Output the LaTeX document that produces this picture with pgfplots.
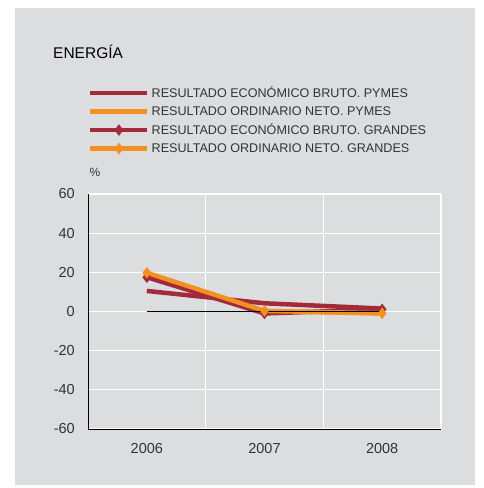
\documentclass[border=0pt]{standalone}
\usepackage{fontspec}
\setmainfont{Liberation Sans}
\usepackage{pgfplots}
\pgfplotsset{compat=1.18}
\definecolor{bg}{HTML}{DCDDDF}
\definecolor{bruto}{HTML}{A12B3B}
\definecolor{neto}{HTML}{F39021}
\definecolor{txt}{HTML}{333333}

\begin{document}
\begin{tikzpicture}[x=1pt,y=1pt]
\fill[white] (0,0) rectangle (483,488);
\fill[bg] (15,3) rectangle (475,480);
\node[anchor=base west, inner sep=0pt, font=\fontsize{15.5}{18}\selectfont] at (53,429) {ENERGÍA};
\begin{axis}[
  at={(88pt,59pt)}, anchor=south west,
  scale only axis, width=353pt, height=235pt,
  xmin=0, xmax=3, ymin=-60, ymax=60,
  xtick={0.5,1.5,2.5}, xticklabels={2006,2007,2008},
  ytick={-60,-40,...,60},
  minor xtick={1,2,3},
  ymajorgrids=true, xminorgrids=true,
  major grid style={white, line width=1.3pt},
  minor grid style={white, line width=1.3pt},
  major tick length=0pt, minor tick length=0pt,
  axis lines*=left,
  axis line style={-, black, line width=0.8pt},
  /pgf/number format/assume math mode=true,
  tick label style={font=\fontsize{14.5}{16}\selectfont, text=txt, inner sep=0pt},
  yticklabel style={anchor=east, xshift=-13pt},
  xticklabel style={anchor=north, yshift=-14pt},
  clip=false,
  legend style={at={(0,1.466)}, anchor=north west, draw=none, fill=none,
    font=\fontsize{12.6}{14}\selectfont, text=txt, inner sep=0pt,
    row sep=3.2pt, cells={anchor=west}},
  legend image code/.code={\draw[mark repeat=2, mark phase=2, #1]
    plot coordinates {(0pt,0pt) (28.5pt,0pt) (57pt,0pt)};},
]
\addplot[bruto, line width=4.5pt, no marks] coordinates {(0.5,10.5) (1.5,4.2) (2.5,1.5)};
\addlegendentry{RESULTADO ECONÓMICO BRUTO. PYMES}
\addplot[neto, line width=4.5pt, no marks] coordinates {(0.5,19.5) (1.5,0.2) (2.5,-1)};
\addlegendentry{RESULTADO ORDINARIO NETO. PYMES}
\addplot[bruto, line width=4.5pt, mark=diamond*, mark size=5pt, mark options={solid, line width=1pt}] coordinates {(0.5,17.5) (1.5,-1) (2.5,1.1)};
\addlegendentry{RESULTADO ECONÓMICO BRUTO. GRANDES}
\addplot[neto, line width=4.5pt, mark=diamond*, mark size=5pt, mark options={solid, line width=1pt}] coordinates {(0.5,19.8) (1.5,0.3) (2.5,-0.9)};
\addlegendentry{RESULTADO ORDINARIO NETO. GRANDES}
\addplot[black, line width=0.8pt, forget plot] coordinates {(0.5,0) (2.5,0)};
\node[font=\fontsize{12}{14}\selectfont, text=txt] at (rel axis cs:0,1) [xshift=7pt, yshift=22pt] {\%};
\end{axis}
\end{tikzpicture}
\end{document}
